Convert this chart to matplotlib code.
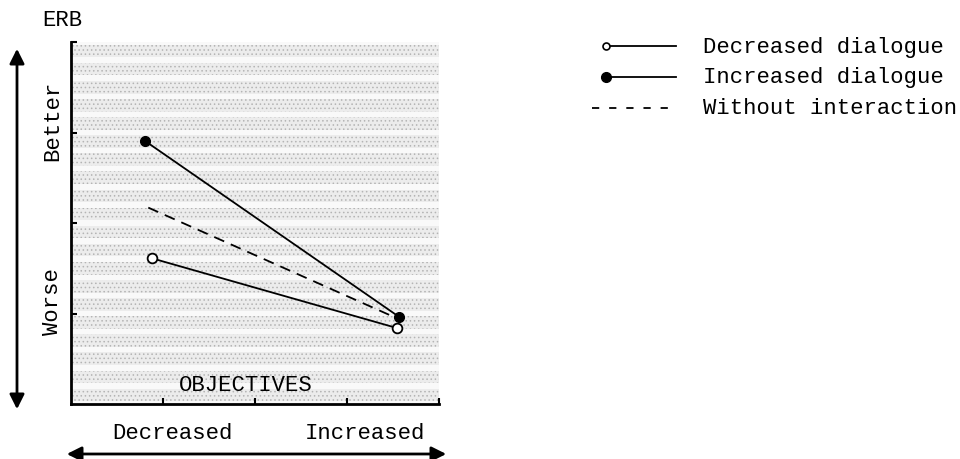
import matplotlib
matplotlib.use('Agg')
from matplotlib import pyplot as plt
from matplotlib.patches import FancyArrowPatch
from matplotlib.lines import Line2D
import numpy as np

plt.rcParams['font.family'] = ['Liberation Mono', 'DejaVu Sans Mono']
plt.rcParams['hatch.color'] = '#b4b4b4'
plt.rcParams['hatch.linewidth'] = 0.6

# objectives level (x) vs ERB (y)
series_names = ['Decreased dialogue', 'Increased dialogue', 'Without interaction']
decreased_x = [0.88, 3.54]
decreased_y = [1.61, 0.84]
increased_x = [0.80, 3.57]
increased_y = [2.91, 0.96]
without_x = [0.84, 3.47]
without_y = [2.17, 0.98]
x_labels = ['Decreased', 'Increased']
x_label_pos = [1.1, 3.2]

fig = plt.figure(figsize=(9.6, 4.6), dpi=100)
ax = fig.add_axes([71 / 960, 55 / 460, 368 / 960, 362 / 460])
ax.set_xlim(0, 4)
ax.set_ylim(0, 4)
ax.set_facecolor('#f9f9f9')

# stippled horizontal bands in the background
for y0 in np.arange(0.0, 4.0, 0.2):
    ax.axhspan(y0 + 0.03, y0 + 0.17, facecolor='#ececec', hatch='....',
               edgecolor='#b4b4b4', linewidth=0, zorder=0)

ax.plot(decreased_x, decreased_y, color='black', lw=1.3, marker='o', ms=7,
        mfc='white', mec='black', mew=1.3, zorder=3)
ax.plot(increased_x, increased_y, color='black', lw=1.3, marker='o', ms=7,
        mfc='black', mec='black', zorder=3)
ax.plot(without_x, without_y, color='black', lw=1.3, ls=(0, (6, 4)), zorder=2)

for s in ['top', 'right']:
    ax.spines[s].set_visible(False)
for s in ['left', 'bottom']:
    ax.spines[s].set_linewidth(2)
ax.set_xticks([1, 2, 3, 4])
ax.set_yticks([1, 2, 3, 4])
ax.set_xticklabels([])
ax.set_yticklabels([])
ax.tick_params(direction='in', length=4, width=1.5, colors='black')

for lab, xp in zip(x_labels, x_label_pos):
    ax.text(xp, -0.32, lab, ha='center', va='center', fontsize=16, clip_on=False)
ax.text(1.9, 0.22, 'OBJECTIVES', ha='center', va='center', fontsize=16)

fig.text(62 / 960, 1 - 20 / 460, 'ERB', ha='center', va='center', fontsize=16)
fig.text(53 / 960, 1 - 121 / 460, 'Better', ha='center', va='center',
         rotation=90, fontsize=16)
fig.text(53 / 960, 1 - 302 / 460, 'Worse', ha='center', va='center',
         rotation=90, fontsize=16)

# double-headed arrows
fig.patches.append(FancyArrowPatch((17 / 960, 1 - 47 / 460), (17 / 960, 1 - 413 / 460),
                                   transform=fig.transFigure, arrowstyle='<|-|>',
                                   mutation_scale=22, lw=2, color='black'))
fig.patches.append(FancyArrowPatch((64 / 960, 1 - 455 / 460), (449 / 960, 1 - 455 / 460),
                                   transform=fig.transFigure, arrowstyle='<|-|>',
                                   mutation_scale=22, lw=2, color='black'))

# legend drawn by hand: marker at the start of each line
leg_y = [47, 78, 109]
leg_styles = [
    dict(ls='-', marker='o', ms=5, mfc='white', mec='black', mew=1.2),
    dict(ls='-', marker='o', ms=7, mfc='black', mec='black'),
    dict(ls=(0, (4, 5.5)), marker=None),
]
for name, yp, st in zip(series_names, leg_y, leg_styles):
    yf = 1 - yp / 460
    x0 = 592 / 960 if st['marker'] is None else 606 / 960
    fig.add_artist(Line2D([x0, 676 / 960], [yf, yf], color='black', lw=1.3,
                          markevery=[0], transform=fig.transFigure, **st))
    fig.text(703 / 960, yf, name, ha='left', va='center', fontsize=16)

fig.savefig('out.png', dpi=100)
